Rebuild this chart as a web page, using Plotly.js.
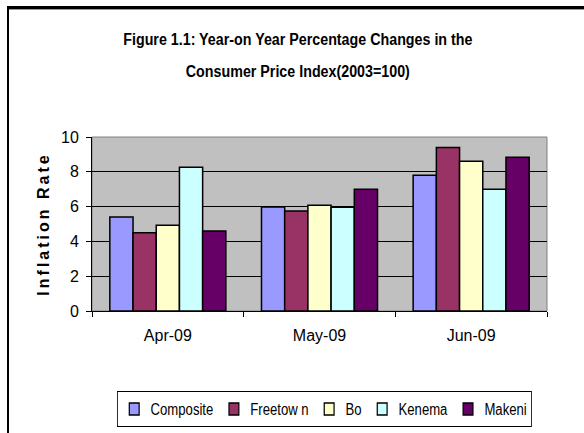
<!DOCTYPE html>
<html>
<head>
<meta charset="utf-8">
<script src="https://cdn.plot.ly/plotly-3.0.1.min.js"></script>
<style>
  html, body { margin:0; padding:0; background:#fff; }
  #wrap { position:relative; width:584px; height:433px; overflow:hidden; }
  #chart { width:584px; height:433px; }
  #frame { position:absolute; left:7px; top:6px; width:600px; height:460px;
           border-top:3px solid #000; border-left:2px solid #000; pointer-events:none; }
  #frame2 { position:absolute; left:9px; top:9px; width:600px; height:1px; background:#999; pointer-events:none; }
  .ytitle { letter-spacing: 3px; }
  .gtitle { transform-box: fill-box; transform-origin: center; transform: scaleX(0.84); }
  .gtitle-subtitle { transform-box: fill-box; transform-origin: center; transform: translateY(-11px) scaleX(0.84); }
  g.legend { transform: translate(117px, 391px) scaleX(0.82); }
</style>
</head>
<body>
<div id="wrap">
  <div id="chart"></div>
  <div id="frame"></div>
  <div id="frame2"></div>
</div>
<script>
const categories = ["Apr-09", "May-09", "Jun-09"];
const seriesNames = ["Composite", "Freetow n", "Bo", "Kenema", "Makeni"];
const composite = [5.4, 5.97, 7.8];
const freetown  = [4.5, 5.74, 9.39];
const bo        = [4.93, 6.08, 8.6];
const kenema    = [8.26, 5.96, 6.99];
const makeni    = [4.6, 7.0, 8.83];
const seriesValues = [composite, freetown, bo, kenema, makeni];
const colors = ["#9999FF", "#993366", "#FFFFCC", "#CCFFFF", "#660066"];
const yTicks = [0, 2, 4, 6, 8, 10];

const font = "'Liberation Sans', Arial, sans-serif";

const traces = seriesNames.map((name, i) => ({
  type: "bar",
  name: name,
  x: categories,
  y: seriesValues[i],
  marker: { color: colors[i], line: { color: "#000", width: 1.5 } },
  hoverinfo: "skip"
}));

const layout = {
  width: 584, height: 433,
  margin: { l: 92, r: 37, t: 137, b: 122, pad: 0, autoexpand: false },
  paper_bgcolor: "#fff",
  plot_bgcolor: "#C0C0C0",
  barmode: "group",
  bargap: 0.235,
  bargroupgap: 0,
  showlegend: true,
  font: { family: font, color: "#000", size: 16 },
  title: {
    text: "Figure 1.1: Year-on Year Percentage Changes in the",
    subtitle: { text: "Consumer Price Index(2003=100)", font: { family: font, size: 17, color: "#000", weight: "bold" } },
    font: { family: font, size: 17, color: "#000", weight: "bold" },
    x: 0.51, xref: "container", xanchor: "center",
    y: 0.923, yref: "container", yanchor: "top"
  },
  xaxis: {
    type: "category",
    showgrid: false,
    showline: true, linecolor: "#000", linewidth: 1,
    ticks: "outside", tickson: "boundaries", ticklen: 5, tickcolor: "#000",
    tickfont: { family: font, size: 16, color: "#000" },
    ticklabelstandoff: 10,
    zeroline: false, fixedrange: true
  },
  yaxis: {
    range: [0, 10],
    tickvals: yTicks,
    showgrid: true, gridcolor: "#000", gridwidth: 1,
    showline: true, linecolor: "#000", linewidth: 1,
    ticks: "outside", ticklen: 5, tickcolor: "#000",
    tickfont: { family: font, size: 16, color: "#000" },
    ticklabelstandoff: 4,
    zeroline: false, fixedrange: true,
    title: { text: "Inflation Rate", font: { family: font, size: 16, color: "#000", weight: "bold" }, standoff: 7 }
  },
  legend: {
    orientation: "h",
    x: -0.02, xanchor: "left",
    y: -0.46, yanchor: "top",
    bgcolor: "#fff", bordercolor: "#000", borderwidth: 1,
    font: { family: font, size: 16, color: "#000" },
    itemclick: false, itemdoubleclick: false,
    itemwidth: 30,
    traceorder: "normal"
  },
  shapes: [{
    type: "rect", xref: "paper", yref: "paper", x0: 0, x1: 1, y0: 0, y1: 1,
    line: { color: "#808080", width: 1 }, layer: "below"
  }]
};

Plotly.newPlot("chart", traces, layout, { staticPlot: true, displayModeBar: false });
</script>
</body>
</html>
